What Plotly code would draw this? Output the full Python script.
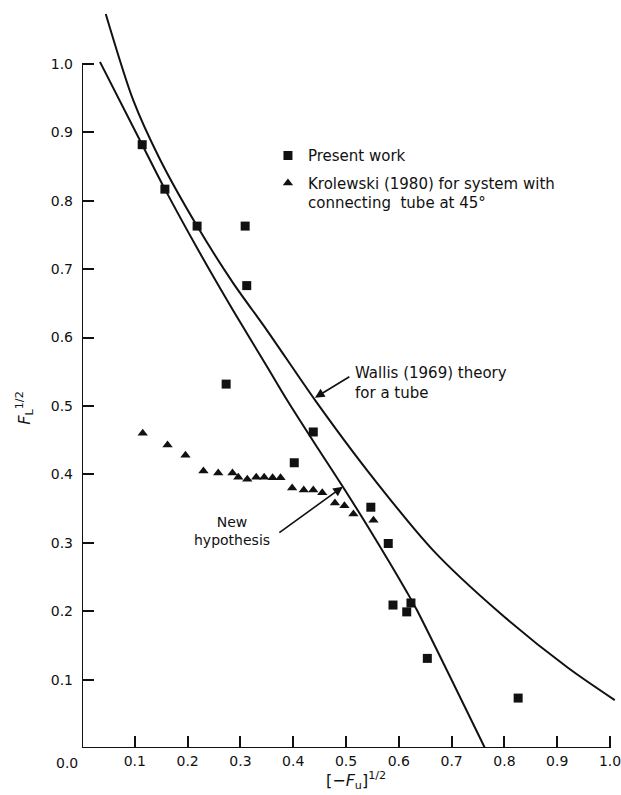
import plotly.graph_objects as go

# ---- data ----
present_x = [0.114, 0.157, 0.218, 0.309, 0.312, 0.273, 0.402, 0.438, 0.547, 0.580, 0.589, 0.615, 0.623, 0.654, 0.826]
present_y = [0.882, 0.817, 0.763, 0.763, 0.676, 0.532, 0.417, 0.462, 0.352, 0.299, 0.209, 0.199, 0.212, 0.131, 0.073]

krol_x = [0.115, 0.162, 0.196, 0.230, 0.258, 0.285, 0.296, 0.313, 0.330, 0.345, 0.361, 0.376,
          0.398, 0.420, 0.438, 0.455, 0.479, 0.497, 0.514, 0.552]
krol_y = [0.460, 0.443, 0.428, 0.405, 0.402, 0.402, 0.396, 0.393, 0.396, 0.396, 0.395, 0.395,
          0.380, 0.377, 0.377, 0.373, 0.358, 0.354, 0.342, 0.333]

wallis_x = [0.045, 0.097, 0.148, 0.218, 0.286, 0.350, 0.441, 0.540, 0.665, 0.792, 0.919, 1.009]
wallis_y = [1.073, 0.947, 0.860, 0.763, 0.680, 0.611, 0.509, 0.406, 0.289, 0.197, 0.118, 0.070]

newhyp_x = [0.034, 0.114, 0.157, 0.223, 0.286, 0.350, 0.388, 0.445, 0.494, 0.545, 0.616, 0.634, 0.763]
newhyp_y = [1.003, 0.882, 0.817, 0.724, 0.640, 0.558, 0.509, 0.440, 0.382, 0.319, 0.227, 0.202, 0.000]

tick_vals = [0.1, 0.2, 0.3, 0.4, 0.5, 0.6, 0.7, 0.8, 0.9, 1.0]
tick_text = ["0.1", "0.2", "0.3", "0.4", "0.5", "0.6", "0.7", "0.8", "0.9", "1.0"]

FONT = "DejaVu Sans"
BLACK = "#111111"

fig = go.Figure()

fig.add_trace(go.Scatter(x=wallis_x, y=wallis_y, mode="lines",
                         line=dict(color=BLACK, width=2, shape="spline", smoothing=0.8),
                         showlegend=False, hoverinfo="skip"))
fig.add_trace(go.Scatter(x=newhyp_x, y=newhyp_y, mode="lines",
                         line=dict(color=BLACK, width=2, shape="spline", smoothing=0.8),
                         showlegend=False, hoverinfo="skip"))
fig.add_trace(go.Scatter(x=present_x, y=present_y, mode="markers", name="Present work",
                         legendgroup="a",
                         marker=dict(symbol="square", size=9, color=BLACK)))
fig.add_trace(go.Scatter(x=krol_x, y=krol_y, mode="markers",
                         name="Krolewski (1980) for system with<br>connecting  tube at 45°",
                         legendgroup="b",
                         marker=dict(symbol="triangle-up", size=9, color=BLACK)))

# axis lines (only up to 1.0, like the reference)
fig.add_shape(type="line", x0=0, y0=0, x1=0, y1=1.0, line=dict(color=BLACK, width=2))
fig.add_shape(type="line", x0=0, y0=0, x1=1.0, y1=0, line=dict(color=BLACK, width=2))

# annotations
fig.add_annotation(x=0.441, y=0.512, ax=36, ay=-22, text="", showarrow=True,
                   arrowhead=2, arrowsize=1.2, arrowwidth=1.6, arrowcolor=BLACK)
fig.add_annotation(x=0.513, y=0.534, xref="x", yref="y", text="Wallis (1969) theory<br>for a tube",
                   showarrow=False, xanchor="left", yanchor="middle", align="left",
                   font=dict(family=FONT, size=15, color=BLACK))
fig.add_annotation(x=0.494, y=0.382, ax=-65, ay=47, text="", showarrow=True,
                   arrowhead=2, arrowsize=1.2, arrowwidth=1.6, arrowcolor=BLACK)
fig.add_annotation(x=0.284, y=0.317, xref="x", yref="y", text="New<br>hypothesis",
                   showarrow=False, xanchor="center", yanchor="middle", align="center",
                   font=dict(family=FONT, size=14, color=BLACK))

fig.add_annotation(x=0, y=0, xref="paper", yref="paper", text="0.0", showarrow=False,
                   xanchor="center", yanchor="middle",
                   xshift=-15, yshift=-15, font=dict(family=FONT, size=14, color=BLACK))
fig.add_annotation(x=-0.106, y=0.456, xref="paper", yref="paper",
                   xanchor="center", yanchor="middle",
                   text="<i>F</i><sub>L</sub><sup>1/2</sup>", textangle=-90, showarrow=False,
                   font=dict(family=FONT, size=16, color=BLACK))
fig.add_annotation(x=0.508, y=-0.043, xref="paper", yref="paper",
                   xanchor="center", yanchor="middle",
                   text="[−<i>F</i><sub>u</sub>]<sup>1/2</sup>", showarrow=False,
                   font=dict(family=FONT, size=16, color=BLACK))

axis_common = dict(showgrid=False, zeroline=False, showline=False, ticks="inside",
                   ticklen=12, tickwidth=2, tickcolor=BLACK, tickvals=tick_vals, ticktext=tick_text,
                   ticklabeloverflow="allow",
                   tickfont=dict(family=FONT, size=14, color=BLACK), fixedrange=True)

fig.update_xaxes(range=[0, 1.0208], ticklabelstandoff=3, **axis_common)
fig.update_yaxes(range=[0, 1.0906], ticklabelstandoff=8, **axis_common)

fig.update_layout(
    width=621, height=795,
    margin=dict(l=82, r=0, t=2, b=47),
    plot_bgcolor="white", paper_bgcolor="white",
    font=dict(family=FONT, color=BLACK),
    legend=dict(x=0.345, y=0.816, xanchor="left", yanchor="top", valign="top",
                bgcolor="rgba(0,0,0,0)", borderwidth=0, tracegroupgap=5,
                font=dict(family=FONT, size=15, color=BLACK), itemwidth=30),
    showlegend=True,
)

fig.write_html("out.html", config={"displayModeBar": False},
               post_script="document.body.style.margin='0';document.body.style.overflow='hidden';")
